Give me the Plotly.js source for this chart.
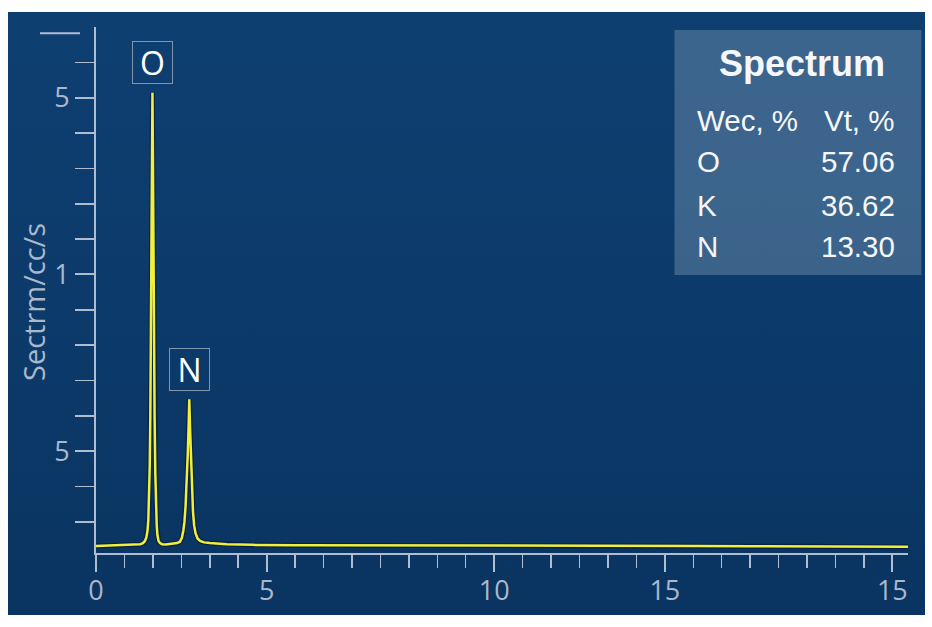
<!DOCTYPE html>
<html>
<head>
<meta charset="utf-8">
<script src="https://cdn.plot.ly/plotly-3.0.1.min.js"></script>
<style>
  html, body { margin: 0; padding: 0; background: #ffffff; width: 932px; height: 627px; overflow: hidden; }
  #chart { position: absolute; left: 8px; top: 12px; width: 917px; height: 603px;
    background: linear-gradient(180deg, #0e3f71 0%, #0c3b6b 45%, #0a3461 100%); }
</style>
</head>
<body>
<div id="chart"></div>
<script>
// ---- data ----
const xTickVals = [0, 6, 14, 20, 28];
const xTickText = ['0', '5', '10', '15', '15'];
const yTickVals = [3, 8, 13];
const yTickText = ['5', '1', '5'];
const yAxisTitle = 'Sectrm/cc/s';

const energy = [
  0, 0.5, 1.0, 1.4, 1.55, 1.65, 1.72, 1.77, 1.81, 1.84,
  1.865, 1.89, 1.91, 1.935, 1.955, 1.97, 1.985, 2.0, 2.015, 2.035,
  2.06, 2.085, 2.11, 2.135, 2.16, 2.2, 2.25, 2.32, 2.45, 2.65,
  2.85, 2.95, 3.02, 3.07, 3.11, 3.15, 3.19, 3.225, 3.255, 3.28,
  3.305, 3.335, 3.37, 3.41, 3.45, 3.5, 3.57, 3.66, 3.8, 4.0,
  4.6, 5.5, 7, 9, 11, 13, 15, 17, 19, 21,
  23, 25, 27, 28.55
];
const counts = [
  0.32, 0.33, 0.34, 0.35, 0.37, 0.40, 0.46, 0.56, 0.75, 1.05,
  1.6, 2.6, 4.0, 6.3, 8.8, 11.0, 13.14, 11.4, 9.0, 6.4,
  4.0, 2.4, 1.4, 0.9, 0.62, 0.46, 0.40, 0.37, 0.36, 0.37,
  0.40, 0.44, 0.55, 0.75, 1.0, 1.45, 2.1, 2.9, 3.7, 4.47,
  3.7, 2.8, 1.95, 1.3, 0.9, 0.68, 0.53, 0.46, 0.42, 0.40,
  0.37, 0.35, 0.34, 0.34, 0.33, 0.33, 0.33, 0.32, 0.32, 0.32,
  0.31, 0.31, 0.30, 0.30
];

const peakNames = ['O', 'N'];
const peakX = [1.985, 3.28];
const peakY = [13.14, 4.47];

const tableTitle = 'Spectrum';
const tableHeaders = ['Wec, %', 'Vt, %'];
const tableElements = ['O', 'K', 'N'];
const tableValues = ['57.06', '36.62', '13.30'];

// ---- layout helpers (page pixel -> paper) ----
const plotL = 96, plotR = 907.7, plotT = 27, plotB = 553;
const px = x => (x - plotL) / (plotR - plotL);
const py = y => (plotB - y) / (plotB - plotT);

const axisColor = '#aebdd0';
const labelColor = '#a9b8cb';
const axisFont = 'Open Sans, Noto Sans, sans-serif';
const tableFont = 'Liberation Sans, Arial, sans-serif';

const xMinor = [];
for (let i = 0; i <= 28; i++) if (!xTickVals.includes(i)) xMinor.push(i);
const yMinor = [];
for (let i = 1; i <= 14; i++) if (!yTickVals.includes(i)) yMinor.push(i);

const traces = [
  { x: energy, y: counts, type: 'scatter', mode: 'lines', hoverinfo: 'skip',
    line: { color: 'rgba(0,10,30,0.45)', width: 5 } },
  { x: energy, y: counts, type: 'scatter', mode: 'lines',
    line: { color: '#f1ef3b', width: 2.5 } }
];

const annotations = [];
peakNames.forEach((n, i) => {
  annotations.push({
    x: peakX[i], y: peakY[i], xref: 'x', yref: 'y', yshift: 30,
    text: n, showarrow: false, font: { family: axisFont, size: 32, color: '#ffffff' },
    width: 37, height: 39, borderpad: 1, bordercolor: '#8196ad', borderwidth: 1
  });
});
annotations.push({
  x: px(33), y: py(302), xref: 'paper', yref: 'paper', text: yAxisTitle, textangle: -90,
  xanchor: 'center', yanchor: 'middle',
  showarrow: false, font: { family: axisFont, size: 29, color: labelColor }
});
// table
annotations.push({
  x: px(801.7), y: py(63.3), xref: 'paper', yref: 'paper', text: '<b>' + tableTitle + '</b>',
  showarrow: false, xanchor: 'center', yanchor: 'middle',
  font: { family: tableFont, size: 36, color: '#f5f7fa' }
});
const rowY = [120, 161.7, 205, 246.7];
const leftCol = [tableHeaders[0]].concat(tableElements);
const rightCol = [tableHeaders[1]].concat(tableValues);
rowY.forEach((y, i) => {
  annotations.push({ x: px(695), y: py(y), xref: 'paper', yref: 'paper', text: leftCol[i],
    showarrow: false, xanchor: 'left', yanchor: 'middle',
    font: { family: tableFont, size: 29.5, color: '#f5f7fa' } });
  annotations.push({ x: px(897), y: py(y), xref: 'paper', yref: 'paper', text: rightCol[i],
    showarrow: false, xanchor: 'right', yanchor: 'middle',
    font: { family: tableFont, size: 29.5, color: '#f5f7fa' } });
});

const shapes = [
  { type: 'rect', xref: 'paper', yref: 'paper', x0: px(674.3), x1: px(921), y0: py(30), y1: py(275),
    fillcolor: 'rgba(118,148,178,0.45)', line: { width: 0 }, layer: 'below' },
  { type: 'line', xref: 'paper', yref: 'y', x0: px(40), x1: px(80), y0: 14.82, y1: 14.82,
    line: { color: axisColor, width: 2 } }
];

const layout = {
  width: 917, height: 603,
  margin: { l: 88, r: 17.3, t: 15, b: 62 },
  paper_bgcolor: 'rgba(0,0,0,0)', plot_bgcolor: 'rgba(0,0,0,0)',
  showlegend: false,
  xaxis: {
    range: [0, 28.55], showgrid: false, zeroline: false,
    showline: true, linecolor: axisColor, linewidth: 2,
    tickmode: 'array', tickvals: xTickVals, ticktext: xTickText,
    ticks: 'outside', ticklen: 17, tickwidth: 2, tickcolor: axisColor,
    ticklabelstandoff: -4,
    tickfont: { family: axisFont, size: 27, color: labelColor },
    minor: { tickmode: 'array', tickvals: xMinor, ticks: 'outside', ticklen: 13, tickwidth: 1.5, tickcolor: axisColor, showgrid: false }
  },
  yaxis: {
    range: [0.12, 15], showgrid: false, zeroline: false,
    showline: true, linecolor: axisColor, linewidth: 2,
    tickmode: 'array', tickvals: yTickVals, ticktext: yTickText,
    ticks: 'outside', ticklen: 19, tickwidth: 2, tickcolor: axisColor,
    tickfont: { family: axisFont, size: 27, color: labelColor },
    minor: { tickmode: 'array', tickvals: yMinor, ticks: 'outside', ticklen: 19, tickwidth: 1.5, tickcolor: axisColor, showgrid: false }
  },
  annotations: annotations,
  shapes: shapes
};

Plotly.newPlot('chart', traces, layout, { displayModeBar: false, staticPlot: true });
</script>
</body>
</html>
